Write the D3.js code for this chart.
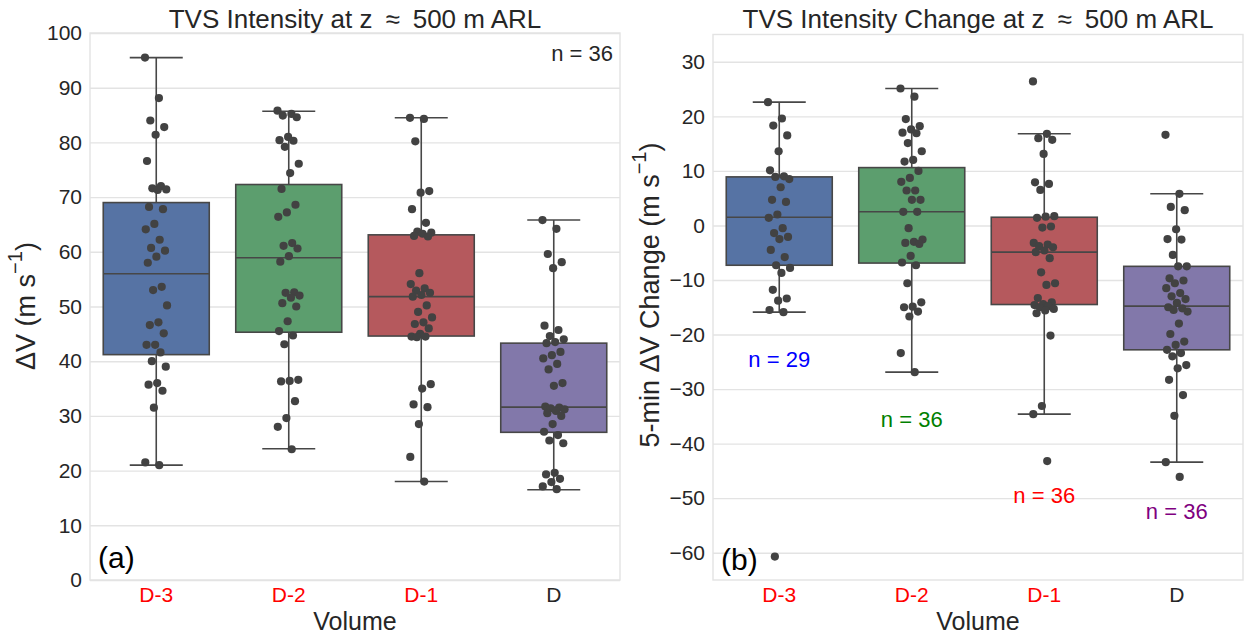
<!DOCTYPE html>
<html><head><meta charset="utf-8">
<script src="https://cdn.jsdelivr.net/npm/d3@7"></script>
<style>
body{margin:0;background:#fff;}
svg{display:block;}
text{font-family:"Liberation Sans",Arial,sans-serif;}
</style>
</head><body>
<svg id="c" width="1245" height="635"></svg>
<script>
// ---------- data ----------
const categories = ["D-3", "D-2", "D-1", "D"];
const categoryLabelColors = ["#ff0000", "#ff0000", "#ff0000", "#262626"];
const boxColors = ["#5673a4", "#5c9e6e", "#b5595d", "#8278aa"];

// Panel (a): TVS intensity (m/s)
const intensityTicks = [0, 10, 20, 30, 40, 50, 60, 70, 80, 90, 100];
const intensityD3 = [95.5, 88.1, 84.0, 82.8, 81.4, 76.6, 72.0, 71.6, 71.4, 71.3, 68.2, 67.8, 65.1, 64.1, 62.2, 60.7, 60.2, 59.1, 58.0, 53.6, 53.0, 50.2, 47.1, 46.6, 45.1, 43.0, 43.0, 41.6, 40.0, 39.0, 36.0, 35.7, 34.6, 31.5, 21.5, 21.0];
const intensityD2 = [85.8, 85.2, 84.9, 84.6, 81.0, 80.4, 80.3, 79.2, 76.1, 74.4, 71.5, 68.6, 67.2, 66.4, 61.6, 61.1, 60.6, 59.2, 58.2, 52.6, 52.5, 52.0, 51.6, 50.6, 50.0, 47.3, 45.5, 44.7, 43.1, 36.6, 36.4, 36.3, 32.7, 29.6, 28.0, 23.9];
const intensityD1 = [84.5, 84.3, 80.2, 71.1, 70.8, 67.8, 65.3, 63.7, 63.5, 63.3, 62.9, 62.8, 56.1, 54.1, 53.3, 52.9, 52.5, 52.1, 51.8, 50.2, 49.0, 48.0, 47.1, 46.8, 46.0, 45.0, 44.5, 44.5, 44.4, 35.8, 35.0, 32.1, 31.6, 28.5, 22.5, 18.0];
const intensityD = [65.8, 64.2, 59.6, 58.1, 57.0, 46.5, 45.7, 44.6, 44.0, 43.5, 43.3, 41.7, 41.1, 40.5, 39.5, 38.5, 36.0, 35.5, 31.7, 31.5, 31.4, 31.2, 30.9, 30.5, 30.0, 28.5, 27.1, 26.5, 25.5, 25.0, 19.6, 19.3, 18.5, 17.9, 17.1, 16.6];
const intensityQ1 = [41.2, 45.3, 44.6, 27.0];
const intensityMedian = [56.0, 58.9, 51.8, 31.6];
const intensityQ3 = [69.0, 72.3, 63.1, 43.3];
const intensityWhiskerLow = [21.0, 24.0, 18.0, 16.5];
const intensityWhiskerHigh = [95.5, 85.7, 84.5, 65.8];

// Panel (b): 5-min intensity change (m/s)
const changeTicks = [-60, -50, -40, -30, -20, -10, 0, 10, 20, 30];
const changeD3 = [22.6, 19.6, 18.3, 16.5, 13.6, 10.1, 9.0, 8.9, 8.5, 7.0, 4.7, 4.3, 2.0, 1.4, -0.5, -1.4, -2.1, -2.5, -4.5, -5.8, -7.3, -7.8, -8.7, -11.8, -13.4, -13.8, -15.5, -15.9, -60.7];
const changeD2 = [25.1, 23.6, 19.5, 18.2, 17.6, 17.0, 16.9, 15.1, 13.6, 12.0, 11.7, 10.0, 8.7, 8.0, 6.4, 6.4, 4.7, 4.7, 2.5, 2.5, -0.5, -2.6, -3.0, -3.2, -3.4, -5.6, -6.8, -7.3, -10.6, -14.1, -14.9, -15.0, -15.8, -16.7, -23.4, -26.9];
const changeD1 = [26.4, 16.8, 16.0, 15.7, 13.1, 7.9, 7.6, 6.5, 1.7, 1.6, 1.4, -0.2, -0.4, -3.2, -3.5, -3.8, -4.0, -4.6, -4.9, -6.0, -8.6, -10.6, -10.9, -13.3, -14.1, -14.4, -14.6, -14.8, -15.0, -15.3, -15.6, -16.1, -20.2, -33.1, -34.6, -43.2];
const changeD = [16.6, 5.8, 3.4, 2.8, -0.7, -2.5, -2.6, -5.4, -7.5, -7.5, -9.7, -10.1, -10.6, -11.5, -12.4, -13.0, -13.5, -14.2, -15.0, -15.2, -15.5, -15.8, -18.0, -19.9, -21.3, -21.9, -22.8, -23.4, -24.0, -25.6, -26.2, -28.3, -31.1, -34.9, -43.4, -46.1];
const changeQ1 = [-7.3, -6.9, -14.5, -22.8];
const changeMedian = [1.5, 2.5, -4.9, -14.8];
const changeQ3 = [8.9, 10.6, 1.5, -7.5];
const changeWhiskerLow = [-15.9, -26.9, -34.6, -43.4];
const changeWhiskerHigh = [22.6, 25.1, 16.8, 5.8];
const changeNLabels = ["n = 29", "n = 36", "n = 36", "n = 36"];
const changeNLabelValue = [-24.5, -35.5, -49.5, -52.5];
const changeNLabelColors = ["#0000ff", "#008000", "#ff0000", "#800080"];

// ---------- drawing ----------
const svg = d3.select("#c");
const TXT = "#262626", GRID = "#e3e3e3", EDGE = "#474747", DOT = "#424242";

function panel(cfg) {
  const x = d3.scaleBand().domain(categories).range([cfg.left, cfg.right]);
  const y = d3.scaleLinear().domain(cfg.domain).range([cfg.bottom, cfg.top]);
  const g = svg.append("g");
  const bw = x.bandwidth();

  // grid + y ticks
  const ya = g.append("g").attr("transform", `translate(${cfg.left},0)`)
    .call(d3.axisLeft(y).tickValues(cfg.ticks).tickSize(-(cfg.right - cfg.left)).tickPadding(8).tickFormat(d3.format("d")));
  ya.select(".domain").remove();
  ya.selectAll(".tick line").attr("stroke", GRID).attr("stroke-width", 1.4);
  ya.selectAll(".tick text").attr("font-size", 21).attr("fill", TXT).attr("font-family", "Liberation Sans, Arial, sans-serif");

  // frame
  g.append("rect").attr("x", cfg.left).attr("y", cfg.top).attr("width", cfg.right - cfg.left)
    .attr("height", cfg.bottom - cfg.top).attr("fill", "none").attr("stroke", GRID).attr("stroke-width", 1.4);

  // x axis labels
  const xa = g.append("g").attr("transform", `translate(0,${cfg.bottom})`)
    .call(d3.axisBottom(x).tickSize(0).tickPadding(7));
  xa.select(".domain").remove();
  xa.selectAll(".tick text").attr("font-size", 21).attr("font-family", "Liberation Sans, Arial, sans-serif")
    .attr("fill", (d, i) => categoryLabelColors[i]);

  // boxes
  categories.forEach((c, i) => {
    const cx = x(c) + bw / 2, boxW = bw * 0.8, capW = boxW / 2;
    const bg = g.append("g");
    bg.append("line").attr("x1", cx).attr("x2", cx).attr("y1", y(cfg.q3[i])).attr("y2", y(cfg.hi[i]))
      .attr("stroke", EDGE).attr("stroke-width", 1.6);
    bg.append("line").attr("x1", cx).attr("x2", cx).attr("y1", y(cfg.q1[i])).attr("y2", y(cfg.lo[i]))
      .attr("stroke", EDGE).attr("stroke-width", 1.6);
    bg.append("line").attr("x1", cx - capW / 2).attr("x2", cx + capW / 2).attr("y1", y(cfg.hi[i])).attr("y2", y(cfg.hi[i]))
      .attr("stroke", EDGE).attr("stroke-width", 1.6);
    bg.append("line").attr("x1", cx - capW / 2).attr("x2", cx + capW / 2).attr("y1", y(cfg.lo[i])).attr("y2", y(cfg.lo[i]))
      .attr("stroke", EDGE).attr("stroke-width", 1.6);
    bg.append("rect").attr("x", cx - boxW / 2).attr("width", boxW)
      .attr("y", y(cfg.q3[i])).attr("height", y(cfg.q1[i]) - y(cfg.q3[i]))
      .attr("fill", boxColors[i]).attr("stroke", EDGE).attr("stroke-width", 1.6);
    bg.append("line").attr("x1", cx - boxW / 2).attr("x2", cx + boxW / 2).attr("y1", y(cfg.med[i])).attr("y2", y(cfg.med[i]))
      .attr("stroke", EDGE).attr("stroke-width", 1.6);
    // strip points
    bg.selectAll("circle").data(cfg.values[i]).join("circle")
      .attr("cx", (v, k) => cx + (((k * 0.6180339887) % 1) - 0.5) * 0.17 * bw)
      .attr("cy", v => y(v)).attr("r", 4.1).attr("fill", DOT);
  });

  // title
  g.append("text").attr("x", (cfg.left + cfg.right) / 2).attr("y", 28).attr("text-anchor", "middle")
    .attr("font-size", 26).attr("fill", TXT).text(cfg.title);
  // x label
  g.append("text").attr("x", (cfg.left + cfg.right) / 2).attr("y", 630).attr("text-anchor", "middle")
    .attr("font-size", 25).attr("fill", TXT).text("Volume");
  // y label
  const yl = g.append("text").attr("transform", `translate(${cfg.ylabelX},${cfg.ylabelY}) rotate(-90)`)
    .attr("text-anchor", "middle").attr("dominant-baseline", "central").attr("font-size", 27).attr("fill", TXT);
  yl.append("tspan").text(cfg.ylabel + " (m s");
  yl.append("tspan").attr("font-size", 20).attr("dy", -11).text("\u22121");
  yl.append("tspan").attr("dy", 11).text(")");
  // panel letter
  g.append("text").attr("x", cfg.left + 8).attr("y", cfg.letterY).attr("font-size", 30).attr("fill", "#000").text(cfg.letter);
  return { x, y, g };
}

const pa = panel({
  left: 90, right: 620, top: 33, bottom: 580, domain: [0, 100], ticks: intensityTicks,
  values: [intensityD3, intensityD2, intensityD1, intensityD],
  q1: intensityQ1, med: intensityMedian, q3: intensityQ3, lo: intensityWhiskerLow, hi: intensityWhiskerHigh,
  title: "TVS Intensity at z\u2002\u2248\u2002500 m ARL", ylabel: "\u0394V", ylabelX: 26, ylabelY: 306,
  letter: "(a)", letterY: 568
});
pa.g.append("text").attr("x", 613).attr("y", 61).attr("text-anchor", "end").attr("font-size", 22).attr("fill", TXT).text("n = 36");

const pb = panel({
  left: 713, right: 1243, top: 34.5, bottom: 580, domain: [-65, 35], ticks: changeTicks,
  values: [changeD3, changeD2, changeD1, changeD],
  q1: changeQ1, med: changeMedian, q3: changeQ3, lo: changeWhiskerLow, hi: changeWhiskerHigh,
  title: "TVS Intensity Change at z\u2002\u2248\u2002500 m ARL", ylabel: "5-min \u0394V Change", ylabelX: 650, ylabelY: 295,
  letter: "(b)", letterY: 570
});
categories.forEach((c, i) => {
  pb.g.append("text").attr("x", pb.x(c) + pb.x.bandwidth() / 2).attr("y", pb.y(changeNLabelValue[i]))
    .attr("text-anchor", "middle").attr("dominant-baseline", "central").attr("font-size", 22)
    .attr("fill", changeNLabelColors[i]).text(changeNLabels[i]);
});
</script>
</body></html>
